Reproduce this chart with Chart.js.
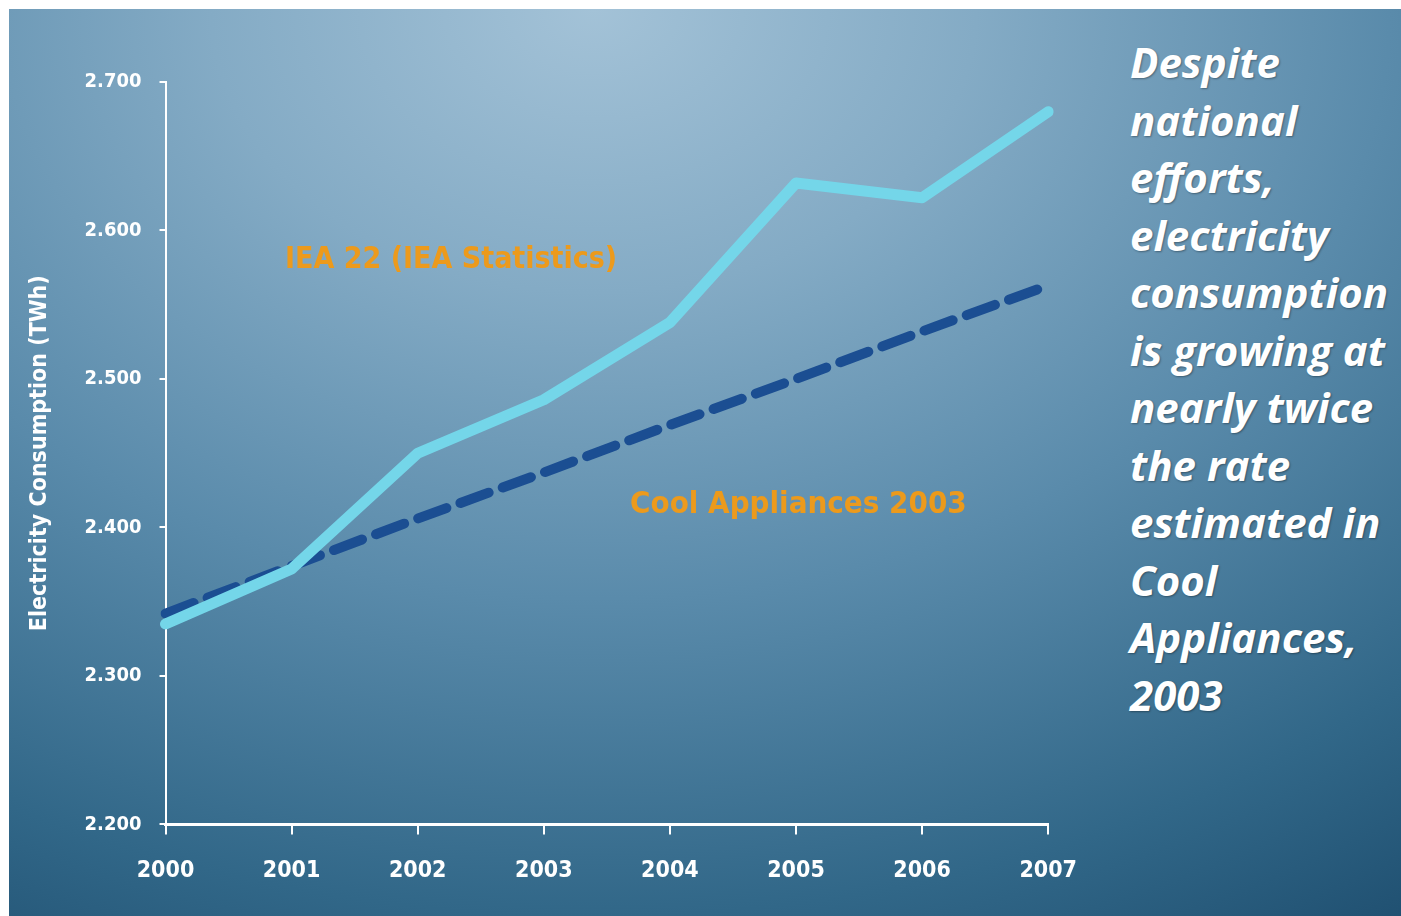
<!DOCTYPE html>
<html>
<head>
<meta charset="utf-8">
<script src="https://cdn.jsdelivr.net/npm/chart.js@4"></script>
<style>
  html, body { margin: 0; padding: 0; background: #fff; }
  body { width: 1401px; height: 916px; position: relative; overflow: hidden; }
  #panel {
    position: absolute; left: 9px; top: 9px; width: 1392px; height: 907px;
    background: radial-gradient(ellipse 110% 125% at 42% 0%, #a3c2d7 0%, #84abc5 25%, #5a8bab 52%, #316788 80%, #1c4b6c 100%);
  }
  #wrap { position: absolute; left: 0; top: 0; width: 1100px; height: 916px; }
  .note {
    position: absolute; white-space: nowrap; color: #ec9a1c;
    font-family: "DejaVu Sans Condensed", "DejaVu Sans", sans-serif; font-weight: bold;
  }
  #side {
    position: absolute; left: 1130px; top: 33px; color: #fff;
    font-family: "Open Sans", sans-serif; font-weight: bold; font-style: italic;
    font-size: 42px; line-height: 57.5px; white-space: nowrap;
    text-shadow: 1px 1px 2px rgba(0,0,0,0.35);
  }
</style>
</head>
<body>
<div id="panel"></div>
<div id="wrap"><canvas id="chart"></canvas></div>
<div class="note" style="left:285px; top:240px; font-size:30px;">IEA 22 (IEA Statistics)</div>
<div class="note" style="left:630px; top:484px; font-size:31px;">Cool Appliances 2003</div>
<div id="side">Despite<br>national<br>efforts,<br>electricity<br>consumption<br>is growing at<br>nearly twice<br>the rate<br>estimated in<br>Cool<br>Appliances,<br>2003</div>
<script>
'use strict';

// chart data
const years = ['2000', '2001', '2002', '2003', '2004', '2005', '2006', '2007'];
const ieaStats = [2335, 2372, 2450, 2486, 2538, 2632, 2622, 2680];
const coolAppliances = [2342, 2374, 2406, 2437, 2469, 2500, 2532, 2563];
const yTicks = [2200, 2300, 2400, 2500, 2600, 2700];

const canvasElem = document.getElementById('chart');

function fmt(v) {
  // 2700 -> "2.700"
  const s = String(v);
  return s.slice(0, s.length - 3) + '.' + s.slice(-3);
}

function renderChart() {
  const ctx = canvasElem.getContext('2d');

  const chartData = {
    labels: years,
    datasets: [{
      label: 'IEA 22 (IEA Statistics)',
      data: ieaStats,
      borderColor: '#74d6e9',
      borderWidth: 11,
      borderJoinStyle: 'round',
      borderCapStyle: 'round',
      pointRadius: 0,
      tension: 0
    },
    {
      label: 'Cool Appliances 2003',
      data: coolAppliances,
      borderColor: '#1b4e92',
      borderWidth: 10,
      borderDash: [30, 15],
      borderCapStyle: 'round',
      pointRadius: 0,
      tension: 0
    }]
  };

  const chartOptions = {
    responsive: true,
    maintainAspectRatio: false,
    animation: false,
    layout: { padding: { left: 26, right: 50, top: 82, bottom: 8 } },
    plugins: {
      legend: { display: false },
      tooltip: { enabled: false }
    },
    scales: {
      x: {
        offset: false,
        grid: { drawOnChartArea: false, drawTicks: true, tickLength: 10, color: '#ffffff', lineWidth: 2 },
        border: { display: true, color: '#ffffff', width: 3 },
        ticks: {
          color: '#ffffff', padding: 23, maxRotation: 0,
          font: { family: 'DejaVu Sans Condensed', weight: 'bold', size: 23 }
        }
      },
      y: {
        min: 2200,
        max: 2700,
        afterBuildTicks: axis => { axis.ticks = yTicks.map(v => ({ value: v })); },
        grid: { drawOnChartArea: false, drawTicks: true, tickLength: 6, color: '#ffffff', lineWidth: 2 },
        border: { display: true, color: '#ffffff', width: 2 },
        ticks: {
          color: '#ffffff', padding: 18,
          font: { family: 'DejaVu Sans Condensed', weight: 'bold', size: 20 },
          callback: v => fmt(v)
        },
        title: {
          display: true,
          text: 'Electricity Consumption (TWh)',
          color: '#ffffff',
          padding: { top: 0, bottom: 13 },
          font: { family: 'DejaVu Sans Condensed', weight: 'bold', size: 23 }
        }
      }
    }
  };

  new Chart(ctx, {
    type: 'line',
    data: chartData,
    options: chartOptions
  });
}

renderChart();
</script>
</body>
</html>
